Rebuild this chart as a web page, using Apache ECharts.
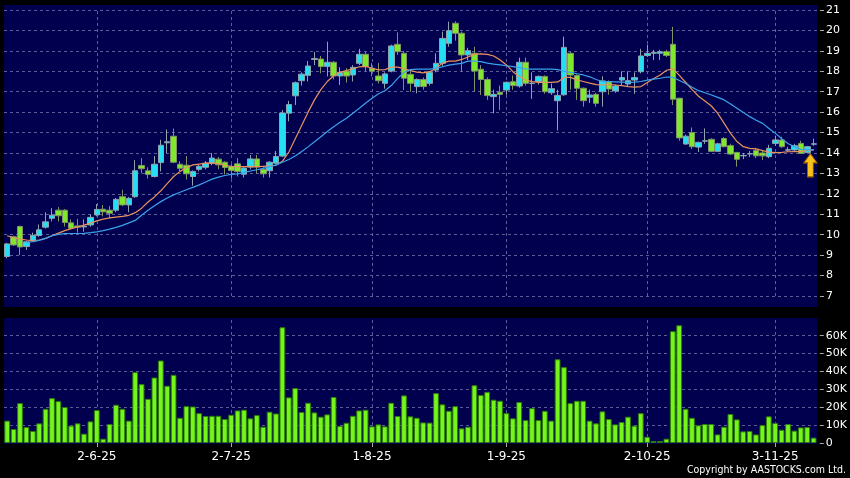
<!DOCTYPE html>
<html><head><meta charset="utf-8">
<script src="https://cdn.jsdelivr.net/npm/echarts@6.0.0/dist/echarts.min.js"></script>
<style>html,body{margin:0;padding:0;background:#000;}#c{width:850px;height:478px;}</style>
</head><body><div id="c"></div>
<script>
const dates = ['13-5-25','14-5-25','15-5-25','16-5-25','19-5-25','20-5-25','21-5-25','22-5-25','23-5-25','26-5-25','27-5-25','28-5-25','29-5-25','30-5-25',
'2-6-25','3-6-25','4-6-25','5-6-25','6-6-25','9-6-25','10-6-25','11-6-25','12-6-25','13-6-25','16-6-25','17-6-25','18-6-25','19-6-25','20-6-25','23-6-25','24-6-25','25-6-25','26-6-25','27-6-25','30-6-25',
'2-7-25','3-7-25','4-7-25','7-7-25','8-7-25','9-7-25','10-7-25','11-7-25','14-7-25','15-7-25','16-7-25','17-7-25','18-7-25','21-7-25','22-7-25','23-7-25','24-7-25','25-7-25','28-7-25','29-7-25','30-7-25','31-7-25',
'1-8-25','4-8-25','5-8-25','6-8-25','7-8-25','8-8-25','11-8-25','12-8-25','13-8-25','14-8-25','15-8-25','18-8-25','19-8-25','20-8-25','21-8-25','22-8-25','25-8-25','26-8-25','27-8-25','28-8-25','29-8-25',
'1-9-25','2-9-25','3-9-25','4-9-25','5-9-25','8-9-25','9-9-25','10-9-25','11-9-25','12-9-25','15-9-25','16-9-25','17-9-25','18-9-25','19-9-25','22-9-25','23-9-25','24-9-25','25-9-25','26-9-25','29-9-25','30-9-25',
'2-10-25','3-10-25','6-10-25','8-10-25','9-10-25','10-10-25','13-10-25','14-10-25','15-10-25','16-10-25','17-10-25','20-10-25','21-10-25','22-10-25','23-10-25','24-10-25','27-10-25','28-10-25','30-10-25','31-10-25',
'3-11-25','4-11-25','5-11-25','6-11-25','7-11-25','10-11-25','11-11-25'];

const tickLabels = ['2-6-25','2-7-25','1-8-25','1-9-25','2-10-25','3-11-25'];
const priceTicks = [7,8,9,10,11,12,13,14,15,16,17,18,19,20,21];

const openP = [8.93,9.9,10.4,9.42,9.72,9.96,10.37,10.8,11.2,11.2,
10.58,10.43,10.38,10.48,10.97,11.25,11.2,11.2,11.86,11.46,
11.86,13.39,13.13,12.85,13.53,14.5,14.82,13.45,13.4,12.85,
13.2,13.3,13.5,13.7,13.55,13.34,13.47,12.96,13.31,13.71,
13.2,13.13,13.5,13.85,15.95,16.8,17.54,17.8,18.58,18.6,
18.24,18.44,17.77,18.01,17.82,18.39,18.83,18.15,17.77,17.41,
18.01,19.32,18.88,17.85,17.25,17.6,17.41,18.06,18.39,19.37,
20.35,19.86,18.8,18.88,18.1,17.6,16.76,16.97,17.08,17.49,
17.28,18.44,17.4,17.5,17.75,16.95,16.56,16.85,18.88,17.79,
17.17,16.73,16.87,17.0,17.49,17.04,17.57,17.38,17.57,17.98,
18.77,18.88,18.88,18.96,19.32,16.68,14.44,15.0,14.29,14.58,
14.67,14.08,14.71,14.36,14.03,13.86,13.95,14.12,14.0,13.82,
14.47,14.64,14.14,14.15,14.47,14.02,14.43];

const closeP = [9.55,9.5,9.4,9.65,9.97,10.24,10.63,10.95,10.93,10.6,
10.32,10.37,10.42,10.85,11.24,11.12,11.05,11.73,11.46,11.78,
13.13,13.23,12.95,13.45,14.38,14.55,13.55,13.25,12.98,13.1,
13.35,13.5,13.75,13.42,13.29,13.14,13.1,13.26,13.71,13.31,
12.98,13.55,13.83,15.96,16.37,17.44,17.86,18.26,18.62,18.23,
18.44,17.77,17.95,17.77,18.19,18.83,18.23,18.0,17.54,17.87,
19.24,18.96,17.66,17.41,17.6,17.25,17.95,18.39,19.61,19.99,
19.86,18.8,19.01,18.01,17.6,16.81,16.87,16.87,17.46,17.3,
18.44,17.41,17.42,17.75,17.0,17.15,16.82,19.17,17.82,17.17,
16.56,16.84,16.43,17.53,17.13,17.28,17.69,17.54,17.69,18.75,
18.88,18.92,18.96,18.77,16.63,14.74,14.82,14.31,14.52,14.6,
14.08,14.45,14.31,13.95,13.69,13.88,13.97,13.86,13.86,14.23,
14.64,14.31,14.16,14.36,13.98,14.31,14.45];

const lowP = [8.85,9.45,9.0,9.25,9.65,9.9,10.3,10.65,10.65,10.4,
10.25,10.1,10.15,10.4,10.9,10.9,10.8,11.1,11.4,11.1,
11.8,13.0,12.75,12.8,13.1,14.0,13.5,13.1,12.7,12.4,
13.1,13.2,13.4,13.2,12.95,12.75,12.85,12.8,13.2,13.0,
12.8,12.8,13.45,13.8,15.55,16.35,17.3,17.5,18.3,17.9,
17.75,17.6,17.33,17.45,17.5,18.3,18.0,17.75,17.4,17.15,
17.95,18.8,17.08,17.0,16.92,17.1,17.3,17.95,18.25,19.2,
19.5,17.98,18.55,17.0,16.84,16.6,15.94,16.1,16.85,17.1,
17.2,17.3,16.65,17.35,16.9,16.85,15.1,16.8,17.1,16.6,
16.27,16.45,16.27,16.27,16.85,16.95,17.3,17.25,16.9,17.9,
18.7,18.55,18.55,18.7,16.35,14.6,14.4,14.2,14.05,14.45,
14.05,14.05,14.28,13.9,13.33,13.7,13.8,13.75,13.65,13.75,
14.35,14.25,14.05,14.1,13.95,13.98,14.35];

const highP = [9.6,9.95,10.45,9.7,10.1,10.5,11.1,11.3,11.35,11.25,
10.75,10.78,10.75,11.0,11.5,11.45,11.4,11.8,12.2,11.85,
13.65,13.75,13.3,13.85,14.65,15.15,15.2,13.6,13.85,13.15,
13.45,13.6,14.0,13.8,13.6,13.45,13.75,13.3,13.9,13.9,
13.3,13.6,14.1,16.1,16.55,17.5,17.95,18.5,18.95,18.75,
19.45,18.5,18.2,18.15,18.3,19.1,18.95,18.4,18.4,17.95,
19.3,19.9,19.0,18.0,17.65,17.7,18.0,18.88,19.94,20.43,
20.45,19.95,19.15,19.2,18.3,17.7,17.1,17.3,17.5,17.79,
18.67,18.67,17.95,17.8,17.8,17.4,17.1,19.7,18.95,17.85,
17.2,17.1,16.95,17.75,17.55,17.35,18.0,18.0,17.95,19.1,
19.3,19.05,19.05,19.05,20.18,16.7,14.9,15.25,14.55,15.2,
14.72,14.5,14.78,14.45,14.05,14.0,14.1,14.25,14.1,14.4,
14.85,14.8,14.3,14.45,14.6,14.35,14.7];

const maShort = [9.95,9.85,9.78,9.74,9.71,9.74,9.82,9.95,10.08,10.2,
10.3,10.38,10.47,10.57,10.68,10.76,10.82,10.86,10.9,10.95,
11.08,11.3,11.6,11.85,12.15,12.5,12.85,13.1,13.28,13.42,
13.46,13.5,13.52,13.48,13.4,13.35,13.33,13.33,13.33,13.33,
13.35,13.37,13.4,13.6,14.05,14.7,15.35,16.0,16.6,17.1,
17.5,17.78,17.95,18.04,18.12,18.22,18.24,18.15,18.07,18.08,
18.2,18.2,18.12,18.03,17.96,17.92,17.98,18.15,18.4,18.5,
18.5,18.58,18.7,18.83,18.85,18.83,18.75,18.55,18.31,17.98,
17.74,17.57,17.49,17.46,17.46,17.46,17.48,17.7,17.7,17.58,
17.5,17.42,17.35,17.33,17.36,17.33,17.3,17.25,17.22,17.25,
17.45,17.65,17.82,18.05,18.12,17.8,17.45,17.1,16.78,16.55,
16.3,15.94,15.45,14.96,14.56,14.31,14.23,14.2,14.12,14.04,
14.02,14.03,14.06,14.07,14.07,14.13,14.15];

const maLong = [null,null,null,9.62,9.66,9.72,9.82,9.95,10.02,10.05,
10.06,10.06,10.07,10.1,10.14,10.2,10.27,10.36,10.46,10.58,
10.7,10.95,11.2,11.42,11.62,11.8,11.95,12.08,12.2,12.32,
12.44,12.58,12.72,12.82,12.9,12.95,12.98,13.05,13.12,13.18,
13.25,13.33,13.42,13.55,13.68,13.85,14.07,14.3,14.55,14.8,
15.05,15.28,15.5,15.7,15.95,16.19,16.45,16.68,16.9,17.05,
17.3,17.65,17.95,18.08,18.11,18.11,18.11,18.15,18.22,18.3,
18.35,18.39,18.5,18.5,18.47,18.4,18.35,18.31,18.27,18.23,
18.18,18.12,18.11,18.11,18.11,18.11,18.08,18.0,17.95,17.88,
17.82,17.73,17.6,17.5,17.49,17.48,17.47,17.45,17.47,17.5,
17.57,17.62,17.66,17.72,17.7,17.55,17.4,17.22,17.05,16.95,
16.84,16.72,16.6,16.4,16.19,15.98,15.78,15.6,15.45,15.2,
14.96,14.7,14.45,14.31,14.18,14.15,14.15];

// volume in thousands
const volumeK = [12.5,7.8,22.3,8.9,6.7,11,19.1,25.1,23.4,20.1,
9.7,11,5.2,12.1,18.4,2.4,10.6,21.4,19.1,12.5,
39.6,32.9,24.7,36.6,46.1,32,38.1,14.1,20.6,20.4,
16.7,15.1,15.2,15.2,13.4,15.8,18.2,18.6,13.8,15.6,
9.1,17.5,16.5,64.7,25.5,30.7,17.3,22.5,17.1,14.7,
16,25.7,9.5,11.3,15.2,18.2,18.6,9.3,10.4,9.3,
22.5,15.1,26.6,14.9,14.1,11.5,11.4,27.9,21.6,18,
20.6,8.2,9.1,32.3,26.8,28.6,24.2,23.6,16.7,13.8,
22.9,12.8,19.5,12.8,18,12.5,46.8,42.4,22.3,23.6,
23.6,12.5,11,17.7,13.4,10.4,11.7,14.7,9.7,16.7,
3.5,1.1,1.1,2.4,62.5,65.8,19.1,14.1,9.9,10.6,
10.6,4.8,9.1,16.2,13.2,6.5,6.7,4.8,10,14.9,
11.2,7.4,10.6,6.9,8.7,8.9,3];

const arrowAt = {date: '10-11-25', price: 13.4};

const PANEL = '#00004f';
const GRIDC = '#5c5c98';
const FONT = 'DejaVu Sans';

const chart = echarts.init(document.getElementById('c'), null, {renderer: 'canvas'});
const candleData = dates.map((d, i) => [openP[i], closeP[i], lowP[i], highP[i]]);
const vlines = tickLabels.map(t => ({xAxis: t}));
const isTick = (idx, val) => tickLabels.indexOf(val) >= 0;

const markLineCfg = {
  silent: true, symbol: 'none', z: 1, animation: false,
  label: {show: false},
  lineStyle: {color: GRIDC, type: [3, 3], width: 1},
  emphasis: {disabled: true},
  data: vlines
};

const option = {
  backgroundColor: '#000',
  animation: false,
  graphic: [
    {type: 'rect', z: -10, silent: true, shape: {x: 4, y: 5, width: 813, height: 302}, style: {fill: PANEL}},
    {type: 'rect', z: -10, silent: true, shape: {x: 4, y: 318, width: 813, height: 126}, style: {fill: PANEL}},
    {type: 'text', right: 4, top: 465, silent: true,
     style: {text: 'Copyright by AASTOCKS.com Ltd.', fill: '#ffffff', font: "10.5px 'DejaVu Sans Condensed', 'Liberation Sans', sans-serif"}}
  ],
  grid: [
    {left: 4, right: 33, top: 10, height: 286},
    {left: 4, right: 33, top: 319, height: 124}
  ],
  xAxis: [
    {type: 'category', gridIndex: 0, data: dates, boundaryGap: true,
     axisLine: {show: false}, axisTick: {show: false}, axisLabel: {show: false}, splitLine: {show: false}},
    {type: 'category', gridIndex: 1, data: dates, boundaryGap: true,
     axisLine: {show: false},
     axisTick: {show: true, alignWithLabel: true, interval: isTick, length: 4, lineStyle: {color: '#aaaaaa'}},
     axisLabel: {show: true, interval: isTick, color: '#ffffff', fontFamily: FONT, fontSize: 12, margin: 8},
     splitLine: {show: false}}
  ],
  yAxis: [
    {type: 'value', gridIndex: 0, position: 'right', offset: 3,
     min: priceTicks[0], max: priceTicks[priceTicks.length - 1], interval: 1,
     axisLine: {show: false},
     axisTick: {show: true, length: 4, lineStyle: {color: '#aaaaaa'}},
     axisLabel: {color: '#ffffff', fontFamily: FONT, fontSize: 11, margin: 6},
     splitLine: {show: true, lineStyle: {color: GRIDC, type: [3, 3], width: 1}}},
    {type: 'value', gridIndex: 1, position: 'right', offset: 3,
     min: 0, max: 69.3, interval: 10,
     axisLine: {show: false},
     axisTick: {show: true, length: 4, lineStyle: {color: '#aaaaaa'}},
     axisLabel: {color: '#ffffff', fontFamily: FONT, fontSize: 11, margin: 6, showMaxLabel: false,
       formatter: v => v === 0 ? '0' : Math.round(v) + 'K'},
     splitLine: {show: true, showMaxLine: false, showMinLine: false, lineStyle: {color: GRIDC, type: [3, 3], width: 1}}}
  ],
  series: [
    {type: 'candlestick', name: 'Price', xAxisIndex: 0, yAxisIndex: 0, data: candleData,
     barWidth: 6, z: 3,
     itemStyle: {color: '#25def2', color0: '#80e82c', borderColor: '#8fa3ad', borderColor0: '#7f9466', borderWidth: 1},
     emphasis: {disabled: true},
     markLine: markLineCfg,
     markPoint: {
       silent: true, z: 6, animation: false,
       symbol: 'path://M7,0 L14,9 L10,9 L10,23 L4,23 L4,9 L0,9 Z',
       symbolSize: [13, 23], symbolOffset: [3, 0],
       itemStyle: {color: '#f8c21a', borderColor: '#a86e00', borderWidth: 1},
       label: {show: false},
       data: [{coord: [arrowAt.date, arrowAt.price]}]
     }},
    {type: 'line', name: 'MA short', xAxisIndex: 0, yAxisIndex: 0, data: maShort, z: 4,
     symbol: 'none', smooth: false, lineStyle: {color: '#e8935c', width: 1.2}, emphasis: {disabled: true}},
    {type: 'line', name: 'MA long', xAxisIndex: 0, yAxisIndex: 0, data: maLong, z: 4,
     symbol: 'none', smooth: false, lineStyle: {color: '#3aa2ea', width: 1.2}, emphasis: {disabled: true}},
    {type: 'bar', name: 'Volume', xAxisIndex: 1, yAxisIndex: 1, data: volumeK, z: 3,
     barWidth: '90%',
     itemStyle: {color: '#74f51c', borderColor: '#2e7c0a', borderWidth: 1},
     emphasis: {disabled: true},
     markLine: markLineCfg}
  ]
};
chart.setOption(option);
</script>
</body></html>
